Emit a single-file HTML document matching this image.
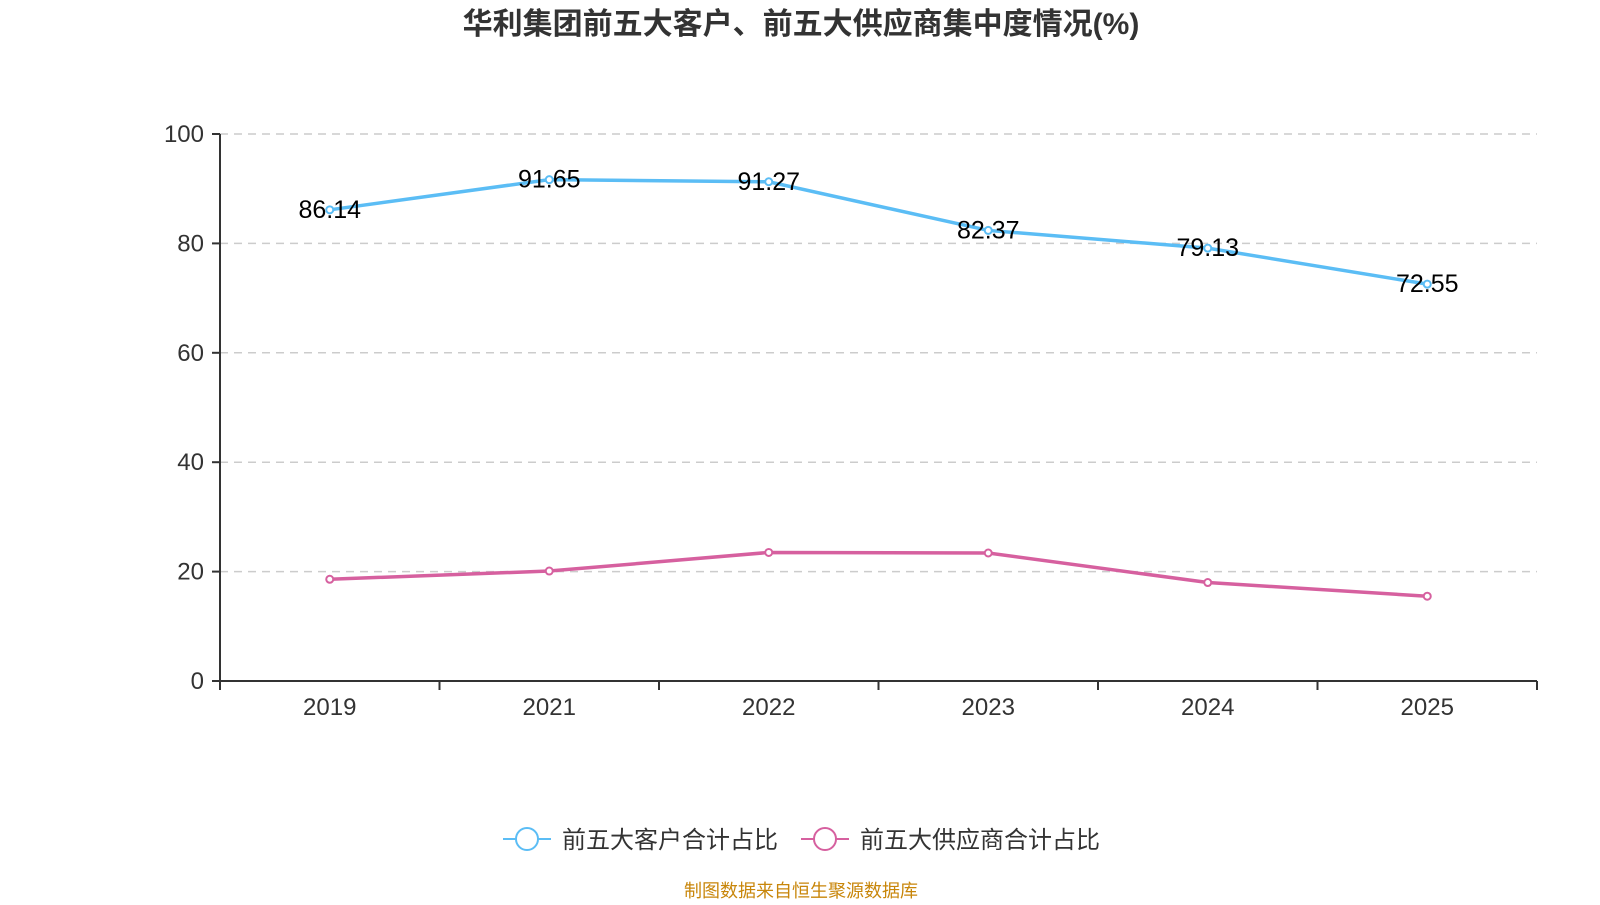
<!DOCTYPE html>
<html><head><meta charset="utf-8"><style>
body{margin:0;background:#fff;width:1600px;height:900px;overflow:hidden;font-family:"Liberation Sans","Noto Sans CJK SC",sans-serif}
</style></head><body>
<svg id="c" width="1600" height="900" xmlns="http://www.w3.org/2000/svg"></svg>
<script>
const categories=["2019","2021","2022","2023","2024","2025"];
const customerValues=[86.14,91.65,91.27,82.37,79.13,72.55];
const supplierValues=[18.6,20.1,23.5,23.4,18.0,15.5];
const yTicks=[0,20,40,60,80,100];
const svg=document.getElementById('c');
const NS='http://www.w3.org/2000/svg';
const L=220,R=1537,T=134,B=681;
const bw=(R-L)/categories.length;
const x=i=>L+bw*(i+0.5);
const y=v=>B-(v/100)*(B-T);
function el(t,a,txt){const e=document.createElementNS(NS,t);for(const k in a)e.setAttribute(k,a[k]);if(txt!==undefined)e.textContent=txt;svg.appendChild(e);return e;}
let t=el('text',{x:801,y:34,'text-anchor':'middle','font-size':30,'font-weight':'bold',fill:'#333'},'华利集团前五大客户、前五大供应商集中度情况(%)');


yTicks.forEach(v=>{
  if(v>0){const g=el('line',{x1:L,x2:R,y1:y(v),y2:y(v),stroke:'#ccc','stroke-dasharray':'8,6','stroke-width':1.5});
  
  }
  const tl=el('text',{x:L-16,y:y(v)+8,'text-anchor':'end','font-size':24,fill:'#333'},String(v));
  
  
  const tk=el('line',{x1:L-8,x2:L,y1:y(v),y2:y(v),stroke:'#333','stroke-width':2});
  
  
});
let ax=el('line',{x1:L,x2:L,y1:T,y2:B,stroke:'#333','stroke-width':2});


ax=el('line',{x1:L,x2:R,y1:B,y2:B,stroke:'#333','stroke-width':2});


for(let i=0;i<=categories.length;i++){
  const tk=el('line',{x1:L+bw*i,x2:L+bw*i,y1:B,y2:B+9,stroke:'#333','stroke-width':2});
  
  
}
categories.forEach((c,i)=>{
  const tl=el('text',{x:x(i),y:B+34,'text-anchor':'middle','font-size':24,fill:'#333'},c);
  
  
});
function series(vals,color,name,labels){
  const p=el('polyline',{points:vals.map((v,i)=>x(i)+','+y(v)).join(' '),fill:'none',stroke:color,'stroke-width':3.5});
  
  
  vals.forEach((v,i)=>{
    const c=el('circle',{cx:x(i),cy:y(v),r:3.5,fill:'#fff',stroke:color,'stroke-width':2});
    
    
    if(labels){const l=el('text',{x:x(i),y:y(v)+8,'text-anchor':'middle','font-size':25,fill:'#000'},v.toFixed(2));
    
    }
  });
}
series(customerValues,'#5bbdf5','customer',true);
series(supplierValues,'#d6609f','supplier',false);
function leg(x0,color,label,name){
  const l=el('line',{x1:x0,x2:x0+48,y1:839,y2:839,stroke:color,'stroke-width':2});
  
  
  const c=el('circle',{cx:x0+24,cy:839,r:11,fill:'#fff',stroke:color,'stroke-width':2});
  
  
  const t=el('text',{x:x0+59,y:848,'font-size':24,fill:'#333'},label);
  
  
}
leg(503,'#5bbdf5','前五大客户合计占比','customer');
leg(801,'#d6609f','前五大供应商合计占比','supplier');
const s=el('text',{x:801,y:897,'text-anchor':'middle','font-size':18,fill:'#c8860a'},'制图数据来自恒生聚源数据库');


</script>
</body></html>
